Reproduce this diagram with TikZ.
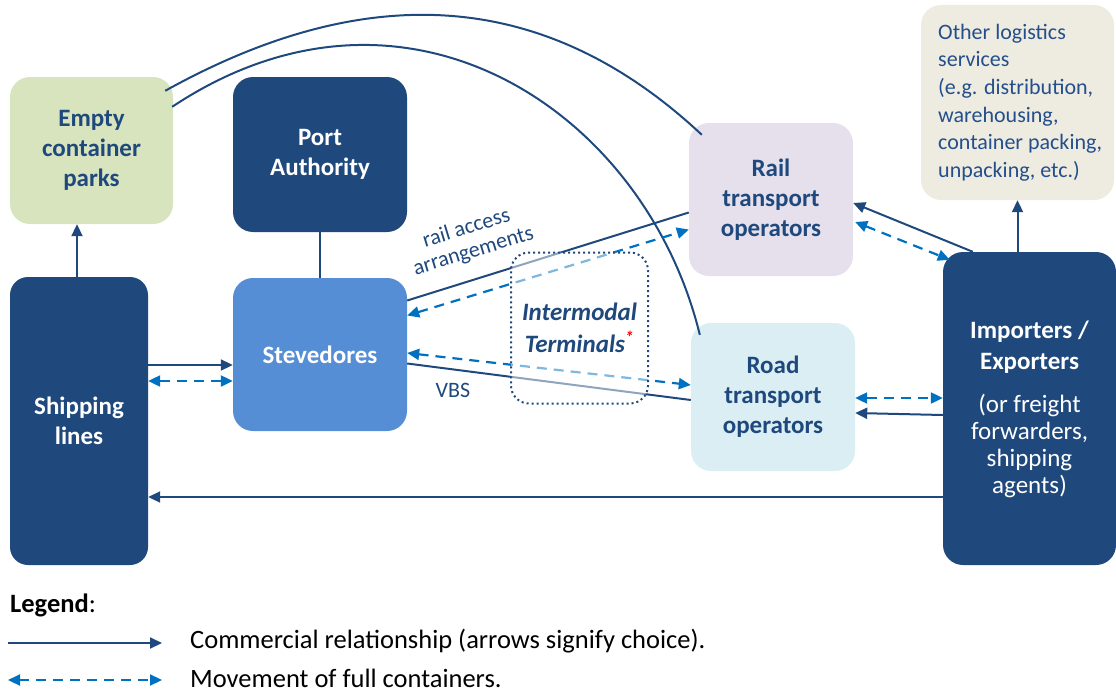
\documentclass[tikz,border=0pt]{standalone}
\usepackage{fontspec}
\setmainfont{Carlito}
\usetikzlibrary{arrows.meta,calc}
\definecolor{navy}{RGB}{31,73,125}
\definecolor{steveblue}{RGB}{85,142,213}
\definecolor{ecpgreen}{RGB}{215,228,189}
\definecolor{raillav}{RGB}{230,224,236}
\definecolor{roadblue}{RGB}{219,238,244}
\definecolor{othbeige}{RGB}{238,236,225}
\definecolor{dblue}{RGB}{0,112,192}
\definecolor{othtext}{RGB}{36,78,140}
\begin{document}
\begin{tikzpicture}[x=1pt,y=-1pt,
  box/.style={rounded corners=20pt, align=center, inner sep=0pt, font=\fontsize{25}{30}\selectfont\bfseries},
  darkbox/.style={box, fill=navy, text=white},
  rel/.style={draw=navy, line width=2pt},
  relarr/.style={rel, -{Triangle[length=12pt,width=11pt]}},
  mov/.style={draw=dblue, line width=2.2pt, dash pattern=on 10pt off 7pt,
    {Triangle[length=12pt,width=11pt]}-{Triangle[length=12pt,width=11pt]}},
  lbl/.style={text=navy, font=\fontsize{22}{24}\selectfont, inner sep=0pt},
  lgtext/.style={anchor=west, inner sep=0pt, font=\fontsize{26.5}{30}\selectfont, text=black}
]
\useasboundingbox (0,0) rectangle (1116,693);

% boxes
\node[box, fill=ecpgreen, text=navy, minimum width=163pt, minimum height=147pt] (ecp) at (91.5,150.5) {Empty\\container\\parks};
\node[darkbox, minimum width=174pt, minimum height=155pt] (pa) at (320,154.5) {Port\\Authority};
\node[box, fill=steveblue, text=white, minimum width=174pt, minimum height=153pt] (steve) at (320,354.5) {Stevedores};
\node[darkbox, rounded corners=18pt, minimum width=138pt, minimum height=288pt] (ship) at (79,421) {Shipping\\lines};
\node[box, fill=raillav, text=navy, minimum width=164pt, minimum height=153pt] (rail) at (771,199.5) {Rail\\transport\\operators};
\node[box, fill=roadblue, text=navy, minimum width=164pt, minimum height=148pt] (road) at (773,397) {Road\\transport\\operators};
\node[box, fill=othbeige, minimum width=193pt, minimum height=195pt] (other) at (1017.5,102.5) {};
\node[anchor=west, text=othtext, align=left, inner sep=0pt, font=\fontsize{22}{27.6}\selectfont] (othert) at (938,102.5) {Other logistics\\services\\(e.g. distribution,\\warehousing,\\container packing,\\unpacking, etc.)};
\node[darkbox, minimum width=173pt, minimum height=313pt] (imp) at (1029.5,408.5) {};
\node[text=white, align=center, inner sep=0pt, font=\fontsize{25}{31}\selectfont\bfseries] (impt) at (1029.5,347.5) {Importers /\\Exporters};
\node[text=white, align=center, inner sep=0pt, font=\fontsize{25}{27.2}\selectfont] (imps) at (1029.5,446) {(or freight\\forwarders,\\shipping\\agents)};

% arcs
\draw[rel] ($(ecp.north east)+(-8,14)$) .. controls (345,-9) and (530,-26) .. ($(rail.north west)+(13,12)$);
\draw[rel] ($(ecp.north east)+(-1,30)$) .. controls (405,-48) and (645,110) .. ($(road.north west)+(9,12)$);

% connectors
\draw[relarr] (ship.north -| 77,0) -- (77,0 |- ecp.south);
\draw[rel] (pa.south) -- (steve.north);
\draw[relarr] ($(ship.east)+(0,-56)$) -- ($(steve.west)+(0,10.5)$);
\draw[mov] ($(ship.east)+(0,-40)$) -- ($(steve.west)+(0,26.5)$);
\draw[relarr] ($(imp.west)+(0,88.5)$) -- ($(ship.east)+(0,76)$);

\draw[rel] ($(steve.east)+(0,-54)$) -- ($(rail.west)+(0,13)$);
\draw[mov] ($(steve.east)+(0,-39)$) -- ($(rail.west)+(0,30)$);
\draw[rel] ($(steve.east)+(0,9)$) -- ($(road.west)+(0,3)$);
\draw[mov] ($(steve.east)+(0,-1.5)$) -- ($(road.west)+(0,-12)$);

\draw[relarr] ($(imp.north west)+(30,0)$) -- ($(rail.east)+(0,3.5)$);
\draw[mov] ($(rail.east)+(2,22.5)$) -- ($(imp.north west)+(7,8)$);
\draw[relarr] (imp.north -| other.south) -- (other.south);
\draw[mov] ($(road.east)+(0,1)$) -- ($(imp.west)+(0,-10.5)$);
\draw[relarr] ($(imp.west)+(0,6.5)$) -- ($(road.east)+(0,16)$);

% labels
\node[lbl, align=center, rotate=17] (rala) at (470,240) {rail access\\arrangements};
\node[lbl] (vbs) at (453,390) {VBS};

% intermodal terminals
\node[draw=navy, line width=2pt, dash pattern=on 2pt off 3pt, rounded corners=18pt, fill=white, fill opacity=0.5, text opacity=1,
  minimum width=137pt, minimum height=151pt, inner sep=0pt, align=center, text=navy,
  font=\fontsize{25}{32}\selectfont\bfseries\itshape] (im) at (579.5,328) {Intermodal\\Terminals\textsuperscript{\color{red}*}};

% legend
\node[lgtext] (lgd) at (10,605) {\textbf{Legend}:};
\coordinate (l1a) at (8,643);
\coordinate (l1b) at (162,643);
\coordinate (l2a) at (8,680);
\coordinate (l2b) at (162,680);
\draw[relarr] (l1a) -- (l1b);
\draw[mov] (l2a) -- (l2b);
\node[lgtext] (lg1) at (190,641) {Commercial relationship (arrows signify choice).};
\node[lgtext] (lg2) at (190,678) {Movement of full containers.};
\end{tikzpicture}
\end{document}
